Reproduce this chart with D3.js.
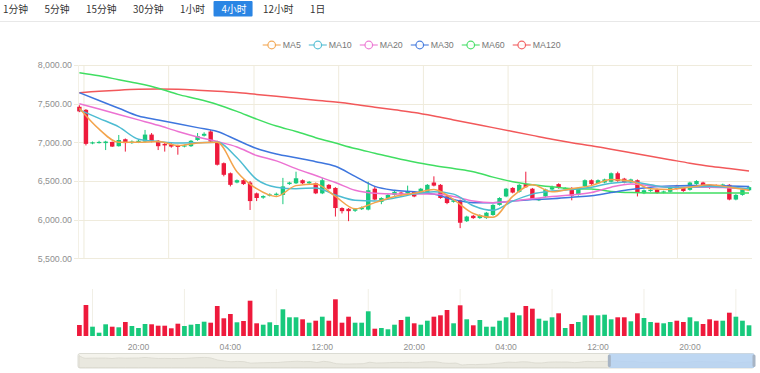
<!DOCTYPE html>
<html><head><meta charset="utf-8">
<script src="https://cdn.jsdelivr.net/npm/d3@7/dist/d3.min.js"></script>
<style>html,body{margin:0;padding:0;background:#fff;overflow:hidden}svg{display:block}</style>
</head><body><svg id="c" width="760" height="373"></svg>
<script>
const periods = ["1分钟","5分钟","15分钟","30分钟","1小时","4小时","12小时","1日"];
const activePeriod = "4小时";
const maNames = ["MA5","MA10","MA20","MA30","MA60","MA120"];
const maColors = ["#f3a44c","#4dbcd2","#ec72d2","#3e76de","#40de62","#f2585a"];

const open  = [7460,7420,6985,6995,6990,7005,6950,7040,6990,7000,7010,7100,7020,6980,6975,6960,6945,6950,7030,7085,7140,7010,6730,6600,6480,6510,6480,6340,6285,6310,6320,6320,6460,6470,6510,6470,6470,6340,6450,6410,6150,6140,6115,6135,6130,6400,6230,6280,6320,6350,6340,6360,6360,6350,6480,6450,6300,6230,6250,5980,6050,6020,6020,6060,6190,6300,6410,6360,6460,6400,6250,6300,6390,6460,6395,6410,6320,6430,6510,6470,6480,6490,6600,6530,6480,6510,6340,6370,6390,6350,6360,6440,6410,6385,6460,6480,6450,6445,6440,6450,6260,6320,6380];
const close = [7400,6980,7000,7005,7010,6945,7030,6990,7010,7020,7100,7020,6950,6960,6945,6940,6960,7020,7080,7110,7010,6710,6580,6450,6510,6460,6240,6280,6305,6325,6335,6430,6480,6535,6470,6490,6340,6510,6400,6150,6110,6110,6135,6155,6380,6260,6280,6320,6360,6335,6370,6300,6400,6450,6440,6280,6215,6250,5960,6040,6020,6060,6090,6190,6280,6400,6350,6450,6420,6270,6270,6390,6420,6410,6410,6310,6410,6510,6460,6510,6520,6600,6500,6480,6520,6345,6380,6385,6345,6365,6425,6400,6370,6480,6500,6440,6410,6435,6455,6260,6320,6390,6420];
const high  = [7480,7430,7010,7020,7020,7010,7095,7050,7025,7040,7160,7120,7030,6990,6990,6970,6970,7030,7120,7130,7160,7020,6740,6610,6520,6520,6500,6350,6315,6340,6350,6540,6490,6620,6520,6500,6480,6540,6460,6420,6160,6150,6145,6170,6490,6430,6290,6330,6370,6360,6440,6370,6410,6460,6560,6460,6310,6260,6260,6050,6060,6070,6100,6200,6290,6410,6420,6460,6620,6410,6280,6400,6440,6470,6420,6420,6420,6520,6520,6520,6530,6610,6620,6540,6530,6520,6390,6395,6400,6375,6435,6450,6420,6490,6510,6490,6460,6455,6465,6460,6330,6400,6430];
const low   = [7390,6960,6975,6985,6900,6940,6945,6880,6980,6990,7000,7000,6900,6880,6930,6840,6935,6940,7020,7075,7000,6700,6560,6430,6470,6450,6125,6240,6270,6300,6310,6200,6450,6460,6460,6460,6330,6330,6390,6040,6080,5980,6100,6125,6120,6250,6200,6270,6310,6320,6330,6290,6350,6340,6430,6270,6200,6220,5890,5970,6010,6010,6010,6050,6180,6290,6340,6350,6410,6260,6240,6290,6380,6400,6390,6250,6310,6420,6450,6460,6470,6480,6490,6470,6470,6300,6330,6360,6335,6340,6350,6390,6360,6375,6450,6430,6400,6425,6430,6250,6250,6310,6370];
const volume = [1100,3100,930,330,1170,930,870,1400,1000,800,1200,1170,1030,1030,770,1230,1000,1130,1200,1430,1330,3000,1770,2200,1370,1500,3530,1270,1130,1370,1100,2670,1870,1870,1670,1330,1530,1930,1530,3670,1330,1930,1330,1330,2470,730,800,670,1130,1600,1930,1270,1130,1530,1930,2070,2600,1270,3070,1670,1070,1600,930,930,1530,1870,2330,2070,3000,2730,1730,1530,1870,2270,800,1200,1400,2070,2070,2070,2130,1670,1870,1870,1470,2270,1800,1400,1330,1270,1400,1530,1400,1870,1470,1200,1670,1530,1530,2330,1930,1530,1070];

const maIdx = [0,3,6,9,12,15,18,21,24,27,30,33,36,39,42,45,48,51,54,57,60,63,66,69,72,75,78,81,84,87,90,93,96,99,102];
const ma5   = [7440,7170,7000,7000,7010,6960,6990,7000,6620,6400,6300,6440,6460,6300,6140,6220,6300,6340,6390,6260,6080,6030,6300,6450,6360,6400,6440,6520,6500,6400,6390,6420,6450,6420,6380];
const ma10  = [7420,7310,7200,7040,7010,6990,6995,7000,6800,6520,6420,6400,6410,6320,6250,6240,6280,6330,6360,6330,6180,6120,6240,6330,6370,6390,6420,6470,6490,6450,6420,6420,6430,6420,6400];
const ma20  = [7500,7430,7360,7290,7220,7140,7070,7010,6940,6830,6760,6660,6570,6480,6380,6340,6330,6330,6330,6300,6240,6220,6240,6270,6300,6320,6350,6420,6460,6440,6420,6420,6420,6410,6400];
const ma30  = [7642,7540,7440,7340,7290,7240,7190,7140,7030,6920,6850,6800,6750,6690,6560,6430,6380,6360,6330,6260,6220,6220,6240,6260,6270,6290,6310,6350,6390,6420,6435,6440,6440,6435,6430];
const ma60  = [7900,7860,7810,7760,7700,7620,7560,7490,7400,7300,7210,7140,7060,6990,6920,6860,6800,6745,6700,6660,6620,6550,6490,6450,6425,6400,6395,6365,6350,6345,6345,6345,6345,6345,6345];
const ma120 = [7640,7660,7675,7685,7688,7685,7675,7662,7645,7620,7595,7570,7545,7520,7490,7455,7420,7385,7340,7290,7240,7190,7140,7090,7040,6995,6955,6910,6865,6820,6775,6730,6690,6660,6630];

const yTicks = [5500,6000,6500,7000,7500,8000];
const xTickIdx = [9,23,37,51,65,79,93];
const xTickLabels = ["20:00","04:00","12:00","20:00","04:00","12:00","20:00"];
const mainGridIdx = [0.7,13.6,26.6,39.5,52.4,65.3,78.2,91.1];
const volGridIdx = [2,16,30,44,58,72,86,100];
const zoomStart = 78.6, zoomEnd = 100;

const UP = "#18c97c", DOWN = "#ee1a3c";
const NUMF = "'Liberation Sans', Arial, sans-serif";
const CJKF = "'Noto Sans CJK SC', sans-serif";
const GRID = "#efebdc";

const svg = d3.select("#c");
const N = open.length;

// ---- top period bar
const bar = svg.append("g");
let cx0 = 3;
periods.forEach(p => {
  const t = bar.append("text").attr("x", cx0).attr("y", 12.5).text(p)
    .attr("font-family", CJKF).attr("font-size", 9.8).attr("fill", "#333");
  const w = t.node().getComputedTextLength();
  if (p === activePeriod) {
    bar.insert("rect", "text").attr("x", cx0 - 8).attr("y", 1).attr("width", w + 14).attr("height", 15.5)
      .attr("fill", "#2a85e4").attr("rx", 1);
    t.attr("fill", "#fff");
  }
  cx0 += w + 16.5;
});
svg.append("line").attr("x1", 0).attr("x2", 760).attr("y1", 21.5).attr("y2", 21.5)
  .attr("stroke", "#e8e8e8");

// ---- scales
const x = d3.scaleBand().domain(d3.range(N)).range([76.1, 752.3]).padding(0);
const cx = i => x(i) + x.bandwidth() / 2;
const xl = d3.scaleLinear().domain([0, N - 1]).range([cx(0), cx(N - 1)]);
const y = d3.scaleLinear().domain([5500, 8000]).range([258.3, 65]);
const yv = d3.scaleLinear().domain([0, 4000]).range([336, 296]);

// ---- main grid
const g = svg.append("g");
yTicks.forEach(t => {
  g.append("line").attr("x1", 74).attr("x2", 752).attr("y1", Math.round(y(t)) + 0.5).attr("y2", Math.round(y(t)) + 0.5)
    .attr("stroke", GRID).attr("stroke-width", 1);
});
mainGridIdx.forEach(i => {
  g.append("line").attr("x1", xl(i)).attr("x2", xl(i)).attr("y1", 65).attr("y2", 258.3)
    .attr("stroke", GRID).attr("stroke-width", 1);
});
g.append("line").attr("x1", 78.5).attr("x2", 78.5).attr("y1", 65).attr("y2", 258.3).attr("stroke", "#f3f0e6");

const yAxis = d3.axisLeft(y).tickValues(yTicks).tickFormat(d3.format(",.2f")).tickSize(0).tickPadding(6);
const ya = svg.append("g").attr("transform", "translate(78,0)").call(yAxis);
ya.select(".domain").remove();
ya.selectAll("text").attr("font-family", NUMF).attr("font-size", 8.8).attr("fill", "#8f8f8f");

// ---- legend
const leg = svg.append("g");
let lc = 271.7;
maNames.forEach((n, k) => {
  leg.append("line").attr("x1", lc - 9).attr("x2", lc + 9).attr("y1", 45).attr("y2", 45)
    .attr("stroke", maColors[k]).attr("stroke-width", 1.3).attr("opacity", 0.8);
  leg.append("circle").attr("cx", lc).attr("cy", 45).attr("r", 3.8).attr("fill", "#fff")
    .attr("stroke", maColors[k]).attr("stroke-width", 1.2).attr("opacity", 0.9);
  const t = leg.append("text").attr("x", lc + 11).attr("y", 48.2).text(n)
    .attr("font-family", NUMF).attr("font-size", 8.8).attr("fill", "#777");
  lc += 11 + t.node().getComputedTextLength() + 17;
});

// ---- candles
const bw = 4.4;
const cg = svg.append("g");
d3.range(N).forEach(i => {
  const up = close[i] >= open[i];
  const col = up ? UP : DOWN;
  cg.append("line").attr("x1", cx(i)).attr("x2", cx(i)).attr("y1", y(high[i])).attr("y2", y(low[i]))
    .attr("stroke", col).attr("stroke-width", 1);
  const top = y(Math.max(open[i], close[i])), bot = y(Math.min(open[i], close[i]));
  cg.append("rect").attr("x", cx(i) - bw / 2).attr("y", top).attr("width", bw)
    .attr("height", Math.max(1.2, bot - top)).attr("fill", col);
});

// ---- MA lines
const maData = [ma5, ma10, ma20, ma30, ma60, ma120];
const lineGen = d3.line().x(d => xl(d[0])).y(d => y(d[1])).curve(d3.curveMonotoneX);
[5,4,3,2,1,0].forEach(k => {
  svg.append("path").attr("d", lineGen(maIdx.map((ix, j) => [ix, maData[k][j]])))
    .attr("fill", "none").attr("stroke", maColors[k]).attr("stroke-width", 1.5);
});

// ---- volume
const vg = svg.append("g");
volGridIdx.forEach(i => {
  vg.append("line").attr("x1", xl(i)).attr("x2", xl(i)).attr("y1", 289).attr("y2", 336)
    .attr("stroke", "#f1efe6").attr("stroke-width", 1);
});
const vbw = 4.7;
d3.range(N).forEach(i => {
  const up = close[i] >= open[i];
  vg.append("rect").attr("x", cx(i) - vbw / 2).attr("y", yv(volume[i])).attr("width", vbw)
    .attr("height", yv(0) - yv(volume[i])).attr("fill", up ? UP : DOWN);
});
xTickIdx.forEach((ix, k) => {
  svg.append("text").attr("x", cx(ix)).attr("y", 350).attr("text-anchor", "middle").text(xTickLabels[k])
    .attr("font-family", NUMF).attr("font-size", 8.6).attr("fill", "#8f8f8f");
});

// ---- data zoom slider
const sx0 = 78, sx1 = 754, sy0 = 353.5, sy1 = 368;
const sg = svg.append("g");
sg.append("rect").attr("x", sx0).attr("y", sy0).attr("width", sx1 - sx0).attr("height", sy1 - sy0)
  .attr("fill", "#f4f3ec").attr("stroke", "#dcdcd4").attr("stroke-width", 1).attr("rx", 2);
const sxs = d3.scaleLinear().domain([0, N - 1]).range([sx0 + 1, sx1 - 1]);
const sys = d3.scaleLinear().domain([d3.min(close), d3.max(close)]).range([sy1 - 3, sy0 + 2]);
const area = d3.area().x((d, i) => sxs(i)).y0(sy1 - 0.5).y1(d => sys(d)).curve(d3.curveMonotoneX);
sg.append("path").attr("d", area(close)).attr("fill", "#e9e8df").attr("stroke", "#d9d8ce").attr("stroke-width", 0.8);
const zs = d3.scaleLinear().domain([0, 100]).range([sx0, sx1]);
sg.append("rect").attr("x", zs(zoomStart)).attr("y", sy0).attr("width", zs(zoomEnd) - zs(zoomStart)).attr("height", sy1 - sy0)
  .attr("fill", "#b4d1f3").attr("opacity", 0.85);
[zoomStart, zoomEnd].forEach(p => {
  sg.append("rect").attr("x", zs(p) - 1.5).attr("y", sy0 + 1).attr("width", 3).attr("height", sy1 - sy0 - 2)
    .attr("rx", 1.5).attr("fill", "#a7b4c4");
});
</script></body></html>
